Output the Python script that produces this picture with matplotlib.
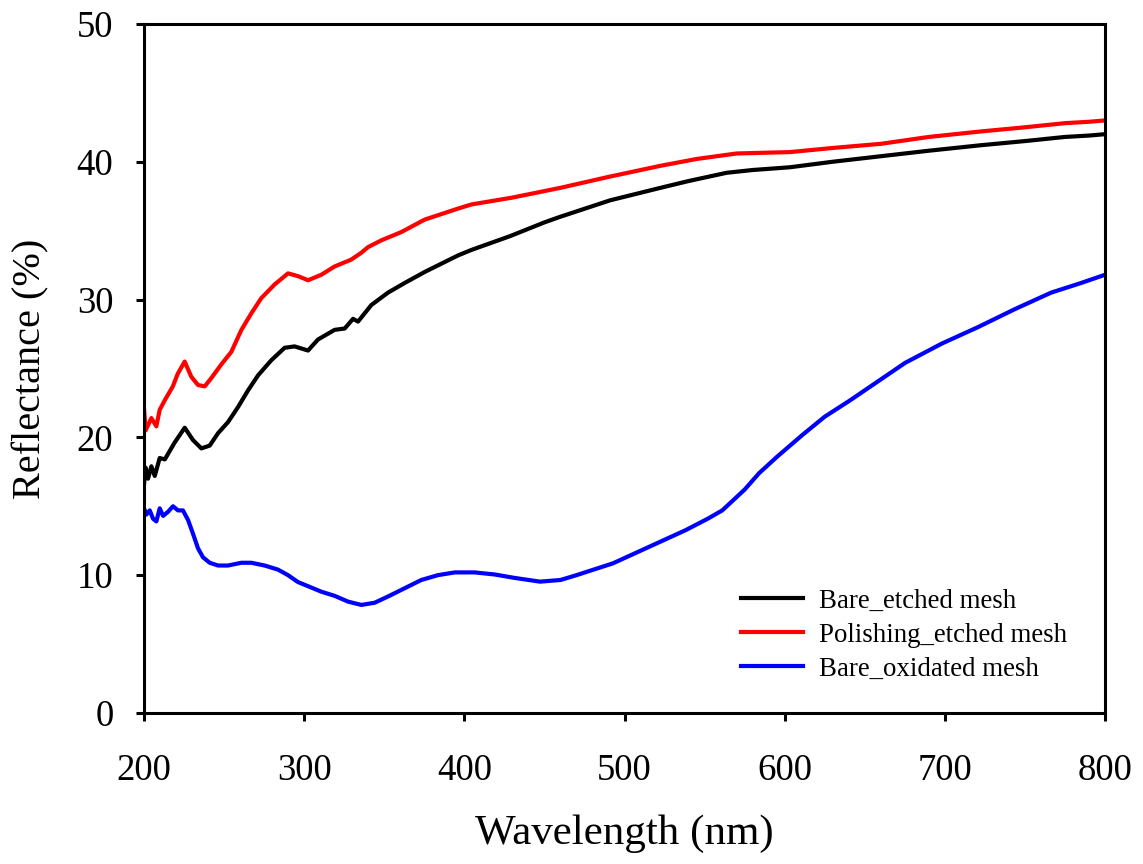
import matplotlib
matplotlib.use("Agg")
import matplotlib.pyplot as plt

plt.rcParams['font.family'] = ['Liberation Serif', 'DejaVu Serif']

# Bare_etched mesh
black_x = [200, 201, 202.5, 204.6, 206.7, 209.8, 213, 219, 225.4, 230.6, 235.8, 241, 246.2, 252.4,
           258.7, 264.9, 271.2, 279.5, 287.8, 294, 302.4, 308.6, 319, 325.3, 330.5, 333.6, 341.9,
           352.3, 362.7, 375.2, 385.6, 396, 404.4, 428.5, 450, 459.7, 491, 522.2, 540, 563.8, 580,
           603.3, 630, 660, 690, 722.6, 750, 775, 790, 800]
black_y = [16.6, 17.8, 17.0, 17.9, 17.2, 18.5, 18.4, 19.6, 20.7, 19.8, 19.2, 19.4, 20.3, 21.1,
           22.2, 23.4, 24.5, 25.6, 26.5, 26.6, 26.3, 27.1, 27.8, 27.9, 28.6, 28.4, 29.6,
           30.5, 31.2, 32.0, 32.6, 33.2, 33.6, 34.6, 35.6, 36.0, 37.2, 38.1, 38.6, 39.2, 39.4,
           39.6, 40.0, 40.4, 40.8, 41.2, 41.5, 41.8, 41.9, 42.0]

# Polishing_etched mesh
red_x = [200, 201, 204.6, 207.7, 209.8, 213, 218, 221, 225.4, 229.5, 233.7, 237.9, 242, 248.3,
         254.5, 260.8, 267, 273.2, 281.6, 289.9, 296.1, 302.4, 310.7, 319, 329.4, 335.7, 339.8,
         348.2, 360.7, 375.2, 385.6, 396, 404.4, 430, 459.7, 490, 522.2, 545, 570, 603.3, 630,
         660, 690, 722.6, 750, 775, 790, 800]
red_y = [22.1, 20.5, 21.4, 20.8, 22.0, 22.7, 23.7, 24.6, 25.5, 24.4, 23.8, 23.7, 24.3, 25.3,
         26.2, 27.8, 29.0, 30.1, 31.1, 31.9, 31.7, 31.4, 31.8, 32.4, 32.9, 33.4, 33.8,
         34.3, 34.9, 35.8, 36.2, 36.6, 36.9, 37.4, 38.1, 38.9, 39.7, 40.2, 40.6, 40.7, 41.0,
         41.3, 41.8, 42.2, 42.5, 42.8, 42.9, 43.0]

# Bare_oxidated mesh
blue_x = [200, 201.5, 203.6, 205.6, 207.7, 209.8, 211.9, 215, 218.1, 221.2, 224.3, 227.5, 230.6,
          233.7, 236.8, 241, 246.2, 252.4, 260.8, 267, 275.3, 283.7, 289.9, 296.1, 302.4, 310.7,
          319, 327.4, 335.7, 344, 352.3, 362.7, 373.1, 383.5, 394, 406.4, 418.9, 431.4, 447.2,
          460, 470, 492.8, 515.6, 538.4, 552, 561, 574.9, 584, 595.3, 611.3, 625, 641, 675.1,
          698, 720.7, 743.6, 766.3, 785, 800]
blue_y = [14.85, 14.4, 14.7, 14.1, 13.9, 14.85, 14.3, 14.6, 15.0, 14.7, 14.7, 14.0, 13.0,
          11.95, 11.3, 10.9, 10.7, 10.7, 10.9, 10.9, 10.7, 10.4, 10.0, 9.5, 9.2, 8.8,
          8.5, 8.08, 7.84, 8.0, 8.45, 9.05, 9.65, 10.0, 10.2, 10.2, 10.05, 9.8, 9.53,
          9.65, 10.0, 10.86, 12.07, 13.28, 14.1, 14.7, 16.2, 17.4, 18.6, 20.2, 21.5, 22.7, 25.4,
          26.8, 28.0, 29.3, 30.5, 31.2, 31.8]

labels = ['Bare_etched mesh', 'Polishing_etched mesh', 'Bare_oxidated mesh']
colors = ['#000000', '#ff0000', '#0000ff']

fig = plt.figure(figsize=(11.43, 8.64), dpi=100)
ax = fig.add_axes([0.126, 0.1748, 0.8408, 0.7975])

for xs, ys, lab, c in zip([black_x, red_x, blue_x], [black_y, red_y, blue_y], labels, colors):
    ax.plot(xs, ys, color=c, lw=3.0, label=lab, solid_joinstyle='round')

ax.set_xlim(200, 800)
ax.set_ylim(0, 50)
ax.set_xticks([200, 300, 400, 500, 600, 700, 800])
ax.set_yticks([0, 10, 20, 30, 40, 50])
for s in ax.spines.values():
    s.set_linewidth(2.2)
ax.tick_params(direction='out', length=6, width=2.2, labelsize=26.5)
ax.tick_params(axis='x', pad=23)
ax.tick_params(axis='y', pad=16)

ax.set_xlabel('Wavelength (nm)', fontsize=31, labelpad=19)
ax.set_ylabel('Reflectance (%)', fontsize=29, labelpad=20)

leg = ax.legend(loc='lower right', bbox_to_anchor=(0.986, 0.01), frameon=False, fontsize=19.4,
                handlelength=2.3, handletextpad=0.6, labelspacing=0.34)

fig.savefig('out.png', dpi=100)
